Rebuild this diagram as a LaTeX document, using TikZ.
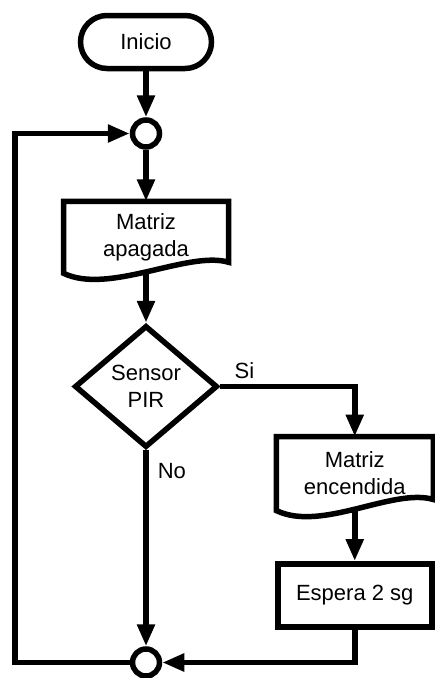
\documentclass[tikz,border=0pt]{standalone}
\usepackage{fontspec}
\setmainfont{Liberation Sans}
\usetikzlibrary{arrows.meta,positioning,shapes.geometric}

% outline of a document box with a wavy bottom
\newcommand{\docoutline}[1]{%
    \draw[heavy] (#1.south west) -- (#1.north west) -- (#1.north east)
    -- ([yshift=11pt]#1.south east)
    .. controls +(-40pt,12pt) and +(45pt,-22pt) .. (#1.south west) -- cycle;}

\begin{document}
\begin{tikzpicture}[
        x=1pt, y=1pt,
        font=\fontsize{22}{27}\selectfont,
        heavy/.style={line width=5.5pt},
        term/.style={draw, heavy, rounded corners=26.5pt, align=center,
            minimum width=131pt, minimum height=53pt},
        junction/.style={circle, draw, heavy, minimum size=27pt, inner sep=0pt},
        doc/.style={heavy, outer sep=0pt, align=center,
            minimum width=165pt, minimum height=72pt},
        proc/.style={draw, heavy, align=center,
            minimum width=154pt, minimum height=63pt},
        decision/.style={diamond, draw, heavy, align=center, inner sep=0pt,
            aspect=1.2, minimum width=143pt, minimum height=122pt},
        arrow/.style={heavy, -{Triangle[length=22pt,width=17pt]}},
        lbl/.style={inner sep=3pt}
    ]
    \path[use as bounding box, fill=white] (0,0) rectangle (435,-678);

    \node[term] (inicio) at (146,-42) {Inicio};
    \node[junction, below=46pt of inicio] (c1) {};
    \node[doc, below=51.5pt of c1] (apagada) {Matriz\\apagada};
    \node[decision, below=49.5pt of apagada] (sensor) {Sensor\\PIR};
    \node[junction, below=196pt of sensor] (c2) {};
    \node[doc, minimum width=157pt, minimum height=74pt,
        below right=50pt and 56pt of sensor.east] (encendida)
    {Matriz\\encendida};
    \node[proc, below=50.5pt of encendida] (espera) {Espera 2 sg};

    \docoutline{apagada}
    \docoutline{encendida}

    \draw[arrow] (inicio) -- (c1);
    \draw[arrow] (c1) -- (apagada);
    \draw[arrow] (apagada) -- (sensor);
    \draw[arrow] (sensor) -- node[lbl, pos=0, anchor=north west, xshift=6pt,
        yshift=-7pt] {No} (c2);
    \draw[arrow] (sensor.east) -| node[lbl, pos=0.09, above, yshift=2pt] {Si}
    (encendida.north);
    \draw[arrow] (encendida) -- (espera);
    \draw[arrow] (espera.south) |- (c2.east);
    \draw[arrow] (c2.west) -| ([xshift=-131pt]c1.center) -- (c1.west);
\end{tikzpicture}
\end{document}
